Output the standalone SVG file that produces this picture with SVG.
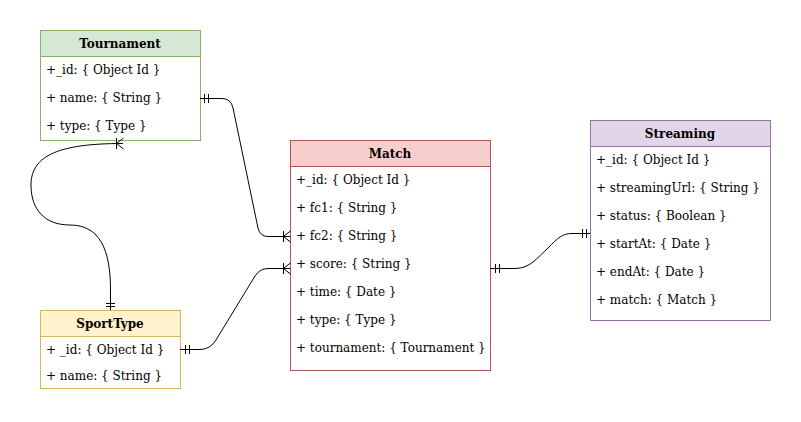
<svg xmlns="http://www.w3.org/2000/svg" width="801" height="422" viewBox="0 0 801 422">
<style>
text{font-family:"DejaVu Serif","Liberation Serif",serif;font-size:12px;fill:#000}
.t{font-weight:bold;text-anchor:middle}
.c{fill:none;stroke:#000;stroke-width:1}
</style>
<rect width="801" height="422" fill="#fff"/>
<g id="Tournament">
<rect x="40.5" y="30.5" width="160" height="110" fill="#fff" stroke="#82b366"/>
<rect x="40.5" y="30.5" width="160" height="26" fill="#d5e8d4" stroke="#82b366"/>
<text class="t" x="120" y="47.5">Tournament</text>
<text x="46" y="74">+_id: { Object Id }</text>
<text x="46" y="102">+ name: { String }</text>
<text x="46" y="130">+ type: { Type }</text>
</g>
<g id="Match">
<rect x="290.5" y="140.5" width="200" height="230" fill="#fff" stroke="#b85450"/>
<rect x="290.5" y="140.5" width="200" height="26" fill="#f8cecc" stroke="#b85450"/>
<text class="t" x="390" y="157.5">Match</text>
<text x="296" y="184">+_id: { Object Id }</text>
<text x="296" y="212">+ fc1: { String }</text>
<text x="296" y="240">+ fc2: { String }</text>
<text x="296" y="268">+ score: { String }</text>
<text x="296" y="296">+ time: { Date }</text>
<text x="296" y="324">+ type: { Type }</text>
<text x="296" y="352">+ tournament: { Tournament }</text>
</g>
<g id="Streaming">
<rect x="590.5" y="120.5" width="180" height="200" fill="#fff" stroke="#9673a6"/>
<rect x="590.5" y="120.5" width="180" height="26" fill="#e1d5e7" stroke="#9673a6"/>
<text class="t" x="680" y="137.5">Streaming</text>
<text x="596" y="164">+_id: { Object Id }</text>
<text x="596" y="192">+ streamingUrl: { String }</text>
<text x="596" y="220">+ status: { Boolean }</text>
<text x="596" y="248">+ startAt: { Date }</text>
<text x="596" y="276">+ endAt: { Date }</text>
<text x="596" y="304">+ match: { Match }</text>
</g>
<g id="SportType">
<rect x="40.5" y="310.5" width="140" height="78" fill="#fff" stroke="#d6b656"/>
<rect x="40.5" y="310.5" width="140" height="26" fill="#fff2cc" stroke="#d6b656"/>
<text class="t" x="110" y="327.5">SportType</text>
<text x="46" y="354">+ _id: { Object Id }</text>
<text x="46" y="380">+ name: { String }</text>
</g>
<g id="connectors">
<path class="c" d="M200,98.5 L222,98.5 Q231,98.5 233,108 L258,228 Q260,236.5 268,236.5 L290,236.5"/>
<path class="c" d="M204.5,94 V103 M208.5,94 V103"/>
<path class="c" d="M283.5,231 V242 M283.5,236.5 L290.5,231 M283.5,236.5 L290.5,242"/>
<path class="c" d="M180,349.5 L200,349.5 Q210,349.5 216,340 L255,276 Q260,268.5 268,268.5 L290,268.5"/>
<path class="c" d="M185.5,345 V354 M189.5,345 V354"/>
<path class="c" d="M283.5,263 V274 M283.5,268.5 L290.5,263 M283.5,268.5 L290.5,274"/>
<path class="c" d="M110.5,310 L110.5,290 C110.5,250 100,225 70,225 C45,225 31,210 31,185 C31,155 60,143.5 123,143.5"/>
<path class="c" d="M106,303.5 H115 M106,306.5 H115"/>
<path class="c" d="M116.5,138 V149 M116.5,143.5 L123.5,138 M116.5,143.5 L123.5,149"/>
<path class="c" d="M490,268.5 L515,268.5 C530,268.5 537,258 548,248 C558,238 562,233.5 572,233.5 L590,233.5"/>
<path class="c" d="M495.5,264 V273 M499.5,264 V273"/>
<path class="c" d="M582.5,229 V238 M586.5,229 V238"/>
</g>
</svg>
